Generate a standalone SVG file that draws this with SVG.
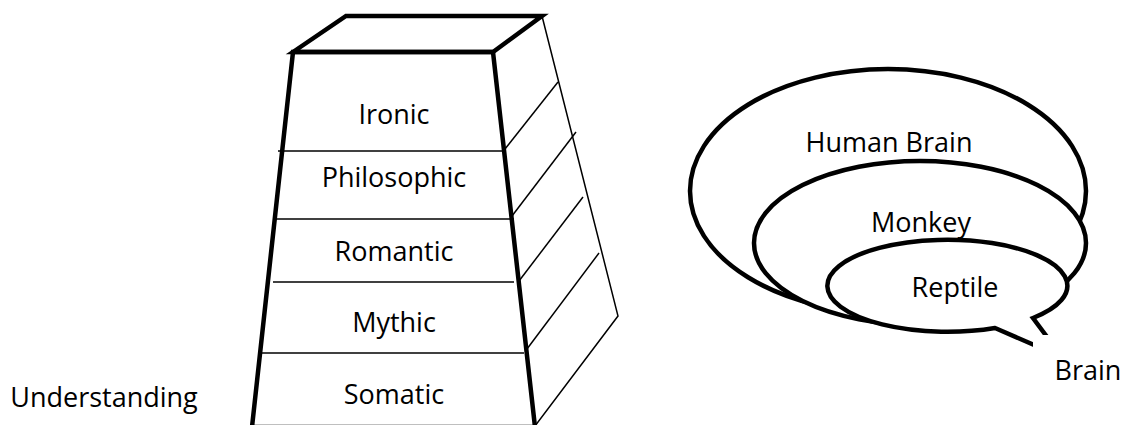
<svg xmlns="http://www.w3.org/2000/svg" width="1124" height="425" viewBox="0 0 1124 425">
  <style>
    .thick { fill: none; stroke: #000; stroke-width: 4.5; stroke-linejoin: miter; }
    .thin { fill: none; stroke: #000; stroke-width: 1.5; }
    .bubble { fill: #fff; stroke: #000; stroke-width: 4.5; }
    .lbl { font-family: "Open Sans", "Liberation Sans", sans-serif; font-size: 27px; fill: #000; text-anchor: middle; }
  </style>
  <rect width="1124" height="425" fill="#fff"/>

  <!-- Pyramid body -->
  <g id="pyramid">
    <path class="thin" d="M542,16 L618,316 L535,426"/>
    <g id="pyramid-side-lines">
      <line class="thin" x1="505" y1="149" x2="558" y2="82"/>
      <line class="thin" x1="512" y1="216" x2="576" y2="132"/>
      <line class="thin" x1="519" y1="281" x2="583" y2="197"/>
      <line class="thin" x1="527" y1="349" x2="599" y2="253"/>
    </g>
    <g id="pyramid-level-lines">
      <line class="thin" x1="278" y1="151" x2="503" y2="151"/>
      <line class="thin" x1="276" y1="219" x2="514" y2="219"/>
      <line class="thin" x1="273" y1="282" x2="514" y2="282"/>
      <line class="thin" x1="262" y1="353" x2="524" y2="353"/>
    </g>
    <polygon class="thick" points="293,52 346,16 542,16 493,52"/>
    <polygon class="thick" points="293,52 493,52 535,427 252,427"/>
  </g>

  <g id="level-ironic"><text class="lbl" x="394" y="124">Ironic</text></g>
  <g id="level-philosophic"><text class="lbl" x="394" y="187">Philosophic</text></g>
  <g id="level-romantic"><text class="lbl" x="394" y="261">Romantic</text></g>
  <g id="level-mythic"><text class="lbl" x="394" y="332">Mythic</text></g>
  <g id="level-somatic"><text class="lbl" x="394" y="404">Somatic</text></g>

  <g id="label-understanding"><text class="lbl" x="104" y="407">Understanding</text></g>

  <!-- Brain callouts -->
  <g id="human-brain">
    <ellipse class="bubble" cx="888" cy="191" rx="198" ry="122"/>
    <text class="lbl" x="889" y="152">Human Brain</text>
  </g>
  <g id="monkey-brain">
    <ellipse class="bubble" cx="920" cy="243" rx="166" ry="82"/>
    <text class="lbl" x="921" y="232">Monkey</text>
  </g>
  <g id="reptile-brain">
    <path class="bubble" d="M995,328 A120,46 0 1 1 1033,318 L1062,357 Z"/>
    <text class="lbl" x="955" y="297">Reptile</text>
  </g>

  <g id="label-brain">
    <rect x="1033" y="335" width="91" height="60" fill="#fff"/>
    <text class="lbl" x="1088" y="380">Brain</text>
  </g>
</svg>
